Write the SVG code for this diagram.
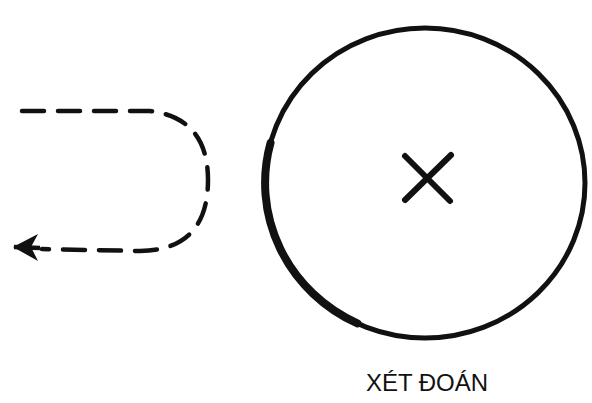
<svg xmlns="http://www.w3.org/2000/svg" width="592" height="403" viewBox="0 0 592 403">
<style>
.dash{fill:none;stroke:#111;stroke-width:4.5;stroke-dasharray:22 14;stroke-linecap:round}
.lbl{font-family:"Liberation Sans",Arial,sans-serif;font-size:24px;fill:#111;text-anchor:middle}
</style>
<rect width="592" height="403" fill="#fff"/>
<g id="connectors">
<path class="dash" d="M22,111 L150,111 Q208,118 208,180 Q208,250 140,251 L42,249"/>
<path d="M13,247 L38,234 L31,247 L38,261 Z" fill="#111"/>
<path d="M14,247 L40,248" stroke="#111" stroke-width="4.5"/>
</g>
<g id="judgment">
<ellipse cx="425" cy="183" rx="160" ry="155" fill="none" stroke="#111" stroke-width="5"/>
<path d="M270.5,143 A160 155 0 0 0 357.4,323.4" fill="none" stroke="#111" stroke-width="8" stroke-linecap="round"/>
<path d="M405,156 L450,201 M451,155 L405,200" stroke="#111" stroke-width="6" stroke-linecap="round"/>
<text class="lbl" x="427" y="391">XÉT ĐOÁN</text>
</g>
</svg>
